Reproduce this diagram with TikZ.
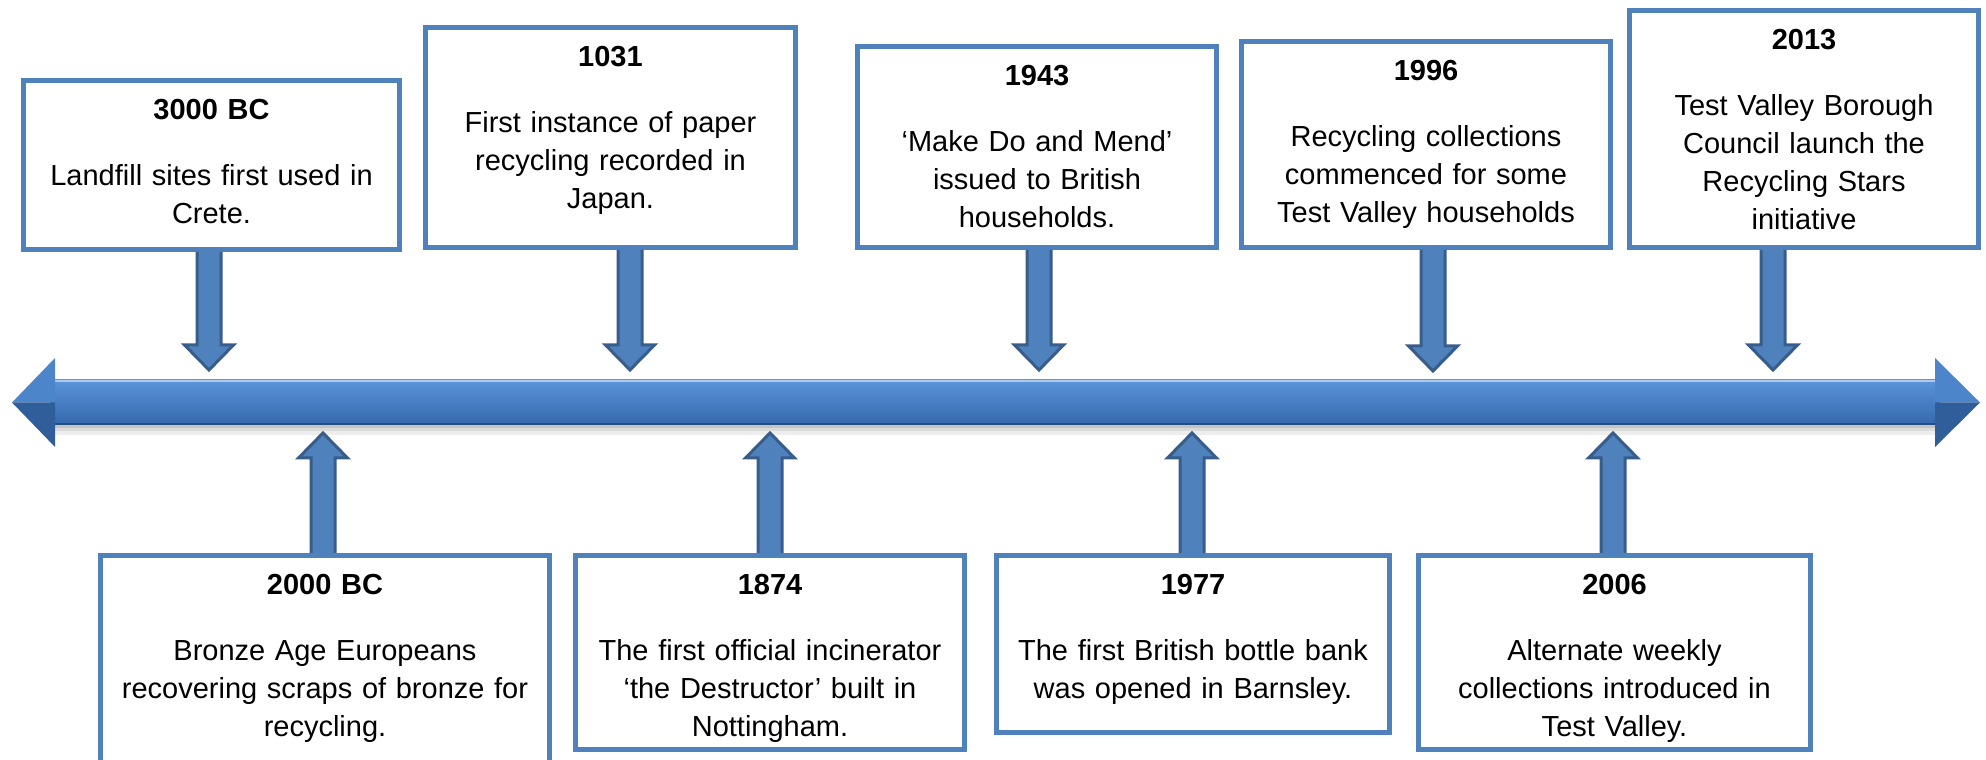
\documentclass[tikz,border=0pt]{standalone}
\usepackage{fontspec}
\setmainfont{Liberation Sans}
\usepackage{xcolor}
\usetikzlibrary{positioning}
\usetikzlibrary{calc}

\definecolor{boxblue}{HTML}{4F81BD}
\definecolor{arrowedge}{HTML}{385D8A}
\definecolor{linetop}{HTML}{5B94DA}
\definecolor{linemid}{HTML}{3D7AC4}
\definecolor{linebot}{HTML}{3468AC}

\begin{document}
\begin{tikzpicture}[x=0.5pt, y=0.5pt,
	event/.style={draw=boxblue, line width=2.5pt, fill=white, inner sep=0pt, align=center, anchor=north, text height=19.5pt, font=\fontsize{14.5pt}{19pt}\selectfont},
	smallarrow/.style={fill=boxblue, draw=arrowedge, line width=1.5pt, line join=miter}]
	\clip (0,0) rectangle (1986,760);
	
	% shadow of the time line
	\fill[black, opacity=.07] (55,325) rectangle (1935,335);
	\fill[black, opacity=.08] (55,329) rectangle (1935,335);
	\fill[black, opacity=.10] (55,332) rectangle (1935,335);
	
	% time line
	\shade[top color=linetop, middle color=linemid, bottom color=linebot] (50,335) rectangle (1940,380);
	\draw[linetop!50!white, line width=1pt] (50,379) -- (1940,379);
	\draw[linebot!75!black, line width=1pt] (50,336) -- (1940,336);
	\fill[linemid!92!white] (12,357.5) -- (55,402) -- (55,357.5) -- cycle;
	\fill[linebot!90!black] (12,357.5) -- (55,313) -- (55,357.5) -- cycle;
	\fill[linemid!92!white] (1980,357.5) -- (1935,402) -- (1935,357.5) -- cycle;
	\fill[linebot!90!black] (1980,357.5) -- (1935,313) -- (1935,357.5) -- cycle;
	
	% events above
	\node[event, text width=188pt, text depth=65pt] (b1) at (211.5,682) {\textbf{3000 BC}\\[14pt]Landfill sites first used in\\Crete.};
	\node[event, text width=185pt, text depth=90.5pt] (b2) at (610.5,735) {\textbf{1031}\\[14pt]First instance of paper\\recycling recorded in\\Japan.};
	\node[event, text width=179.5pt, text depth=81pt] (b3) at (1037,716) {\textbf{1943}\\[14pt]‘Make Do and Mend’\\issued to British\\households.};
	\node[event, text width=184.5pt, text depth=83.5pt] (b4) at (1426,721) {\textbf{1996}\\[14pt]Recycling collections\\commenced for some\\Test Valley households};
	\node[event, text width=174.5pt, text depth=99pt] (b5) at (1804,752) {\textbf{2013}\\[14pt]Test Valley Borough\\Council launch the\\Recycling Stars\\initiative};
	
	% events below
	\node[event, text width=224.5pt, text depth=96.5pt] (c1) at (325,207) {\textbf{2000 BC}\\[14pt]Bronze Age Europeans\\recovering scraps of bronze for\\recycling.};
	\node[event, text width=194.5pt, text depth=77.5pt] (c2) at (770,207) {\textbf{1874}\\[14pt]The first official incinerator\\‘the Destructor’ built in\\Nottingham.};
	\node[event, text width=196.5pt, text depth=69pt] (c3) at (1193,207) {\textbf{1977}\\[14pt]The first British bottle bank\\was opened in Barnsley.};
	\node[event, text width=196pt, text depth=77.5pt] (c4) at (1614.5,207) {\textbf{2006}\\[14pt]Alternate weekly\\collections introduced in\\Test Valley.};
	
	% tips on the time line
	\coordinate (t1) at (209,390);
	\coordinate (t2) at (630,390);
	\coordinate (t3) at (1039,390);
	\coordinate (t4) at (1433,389);
	\coordinate (t5) at (1773,390);
	\coordinate (u1) at (323,327);
	\coordinate (u2) at (770,327);
	\coordinate (u3) at (1192,327);
	\coordinate (u4) at (1613,327);
	
	% block arrows
	\foreach \evn/\tpt in {b1/t1, b2/t2, b3/t3, b4/t4, b5/t5}
	\filldraw[smallarrow] let \p1=(\tpt |- \evn.south), \p2=(\tpt) in (\x1-6pt,\y1) -- (\x1-6pt,\y2+12.5pt) -- (\x1-12.25pt,\y2+12.5pt) -- (\x2,\y2) -- (\x1+12.25pt,\y2+12.5pt) -- (\x1+6pt,\y2+12.5pt) -- (\x1+6pt,\y1);
	\foreach \evn/\tpt in {c1/u1, c2/u2, c3/u3, c4/u4}
	\filldraw[smallarrow] let \p1=(\tpt |- \evn.north), \p2=(\tpt) in (\x1-6pt,\y1) -- (\x1-6pt,\y2-12.5pt) -- (\x1-12.25pt,\y2-12.5pt) -- (\x2,\y2) -- (\x1+12.25pt,\y2-12.5pt) -- (\x1+6pt,\y2-12.5pt) -- (\x1+6pt,\y1);
\end{tikzpicture}
\end{document}
